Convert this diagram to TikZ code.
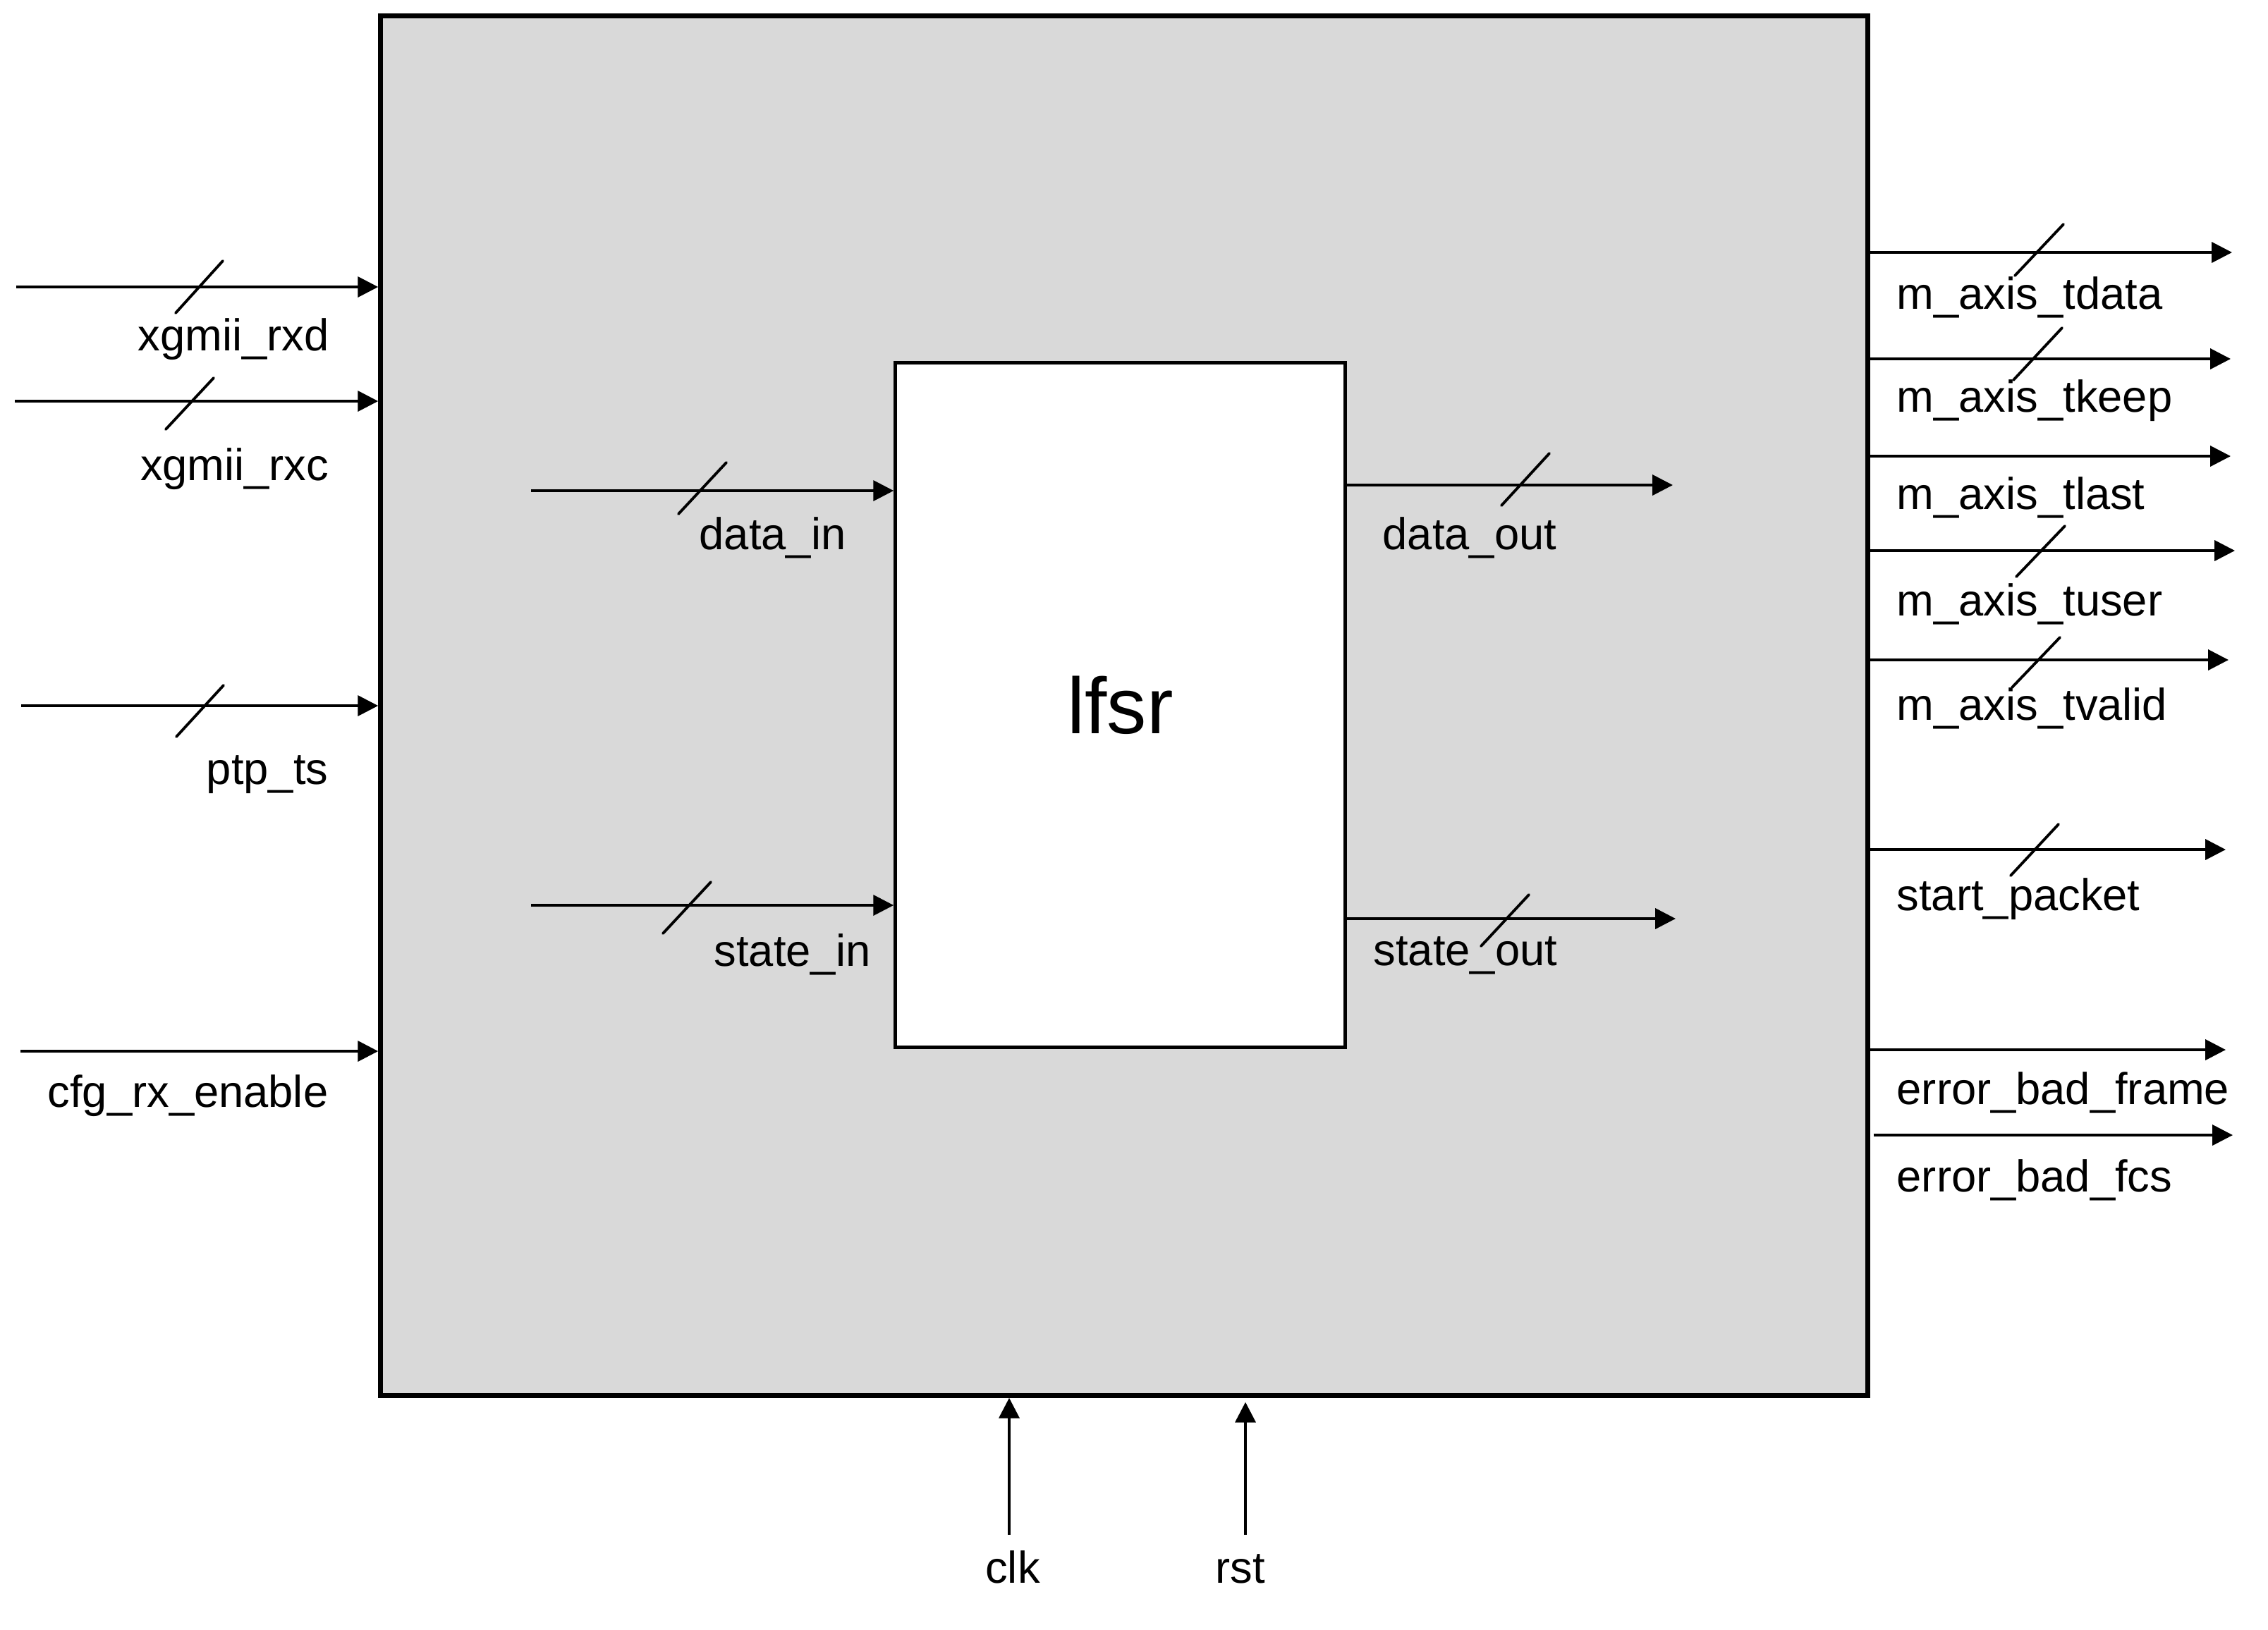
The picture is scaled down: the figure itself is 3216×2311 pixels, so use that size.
\documentclass[tikz,border=0pt]{standalone}
\usepackage{fontspec}
\setmainfont{Liberation Sans}
\usepackage{xcolor}
\usepackage{tikz}
\usetikzlibrary{arrows.meta, positioning}
\definecolor{blockgray}{RGB}{217,217,217}
\tikzset{
    port/.style={
      -{Triangle[length=8.2pt, width=8.2pt]}, %filled arrow head
      line width=1.1pt,
    },
    bus/.style={
      line width=1.1pt, %bus width slash
      line cap=round,
    },
    sig/.style={
      inner sep=0pt,
      font=\fontsize{18}{22}\selectfont, %port names
    },
    block/.style={
      draw,
      line width=1.8pt,
      %fill=blockgray,
    }
  }

\begin{document}
\begin{tikzpicture}[x=0.01cm, y=-0.01cm]
  \useasboundingbox (0,0) rectangle (3216,2311);

  \node[block, fill=blockgray, minimum width=21.08cm, minimum height=19.56cm] (top) at (1594,1001) {};
  \node[block, fill=white, line width=1.5pt, minimum width=6.37cm, minimum height=9.7cm,
        font=\fontsize{32}{38}\selectfont] (lfsr) at (1588.5,1000) {lfsr};

  % inputs
  \coordinate (rxd) at (23,407);
  \coordinate (rxc) at (21,569);
  \coordinate (ts) at (30,1001);
  \coordinate (en) at (29,1491);
  \draw[port] (rxd) -- (rxd -| top.west);
  \draw[port] (rxc) -- (rxc -| top.west);
  \draw[port] (ts) -- (ts -| top.west);
  \draw[port] (en) -- (en -| top.west);
  \draw[bus] (249,444) -- (316,370);
  \draw[bus] (235,609) -- (303,536);
  \draw[bus] (250,1045) -- (317,972);
  \node[sig, anchor=base east] (rxdl) at (467,497) {xgmii\_rxd};
  \node[sig, anchor=base east] (rxcl) at (467,681) {xgmii\_rxc};
  \node[sig, anchor=base east] (tsl) at (466,1112) {ptp\_ts};
  \node[sig, anchor=base east] (enl) at (466,1570) {cfg\_rx\_enable};

  % outputs
  \coordinate (tdata) at (3165,358);
  \coordinate (tkeep) at (3163,509);
  \coordinate (tlast) at (3163,647);
  \coordinate (tuser) at (3169,781);
  \coordinate (tvalid) at (3160,936);
  \coordinate (sop) at (3156,1205);
  \coordinate (frame) at (3156,1489);
  \coordinate (fcs) at (3166,1610);
  \draw[port] (top.east |- tdata) -- (tdata);
  \draw[port] (top.east |- tkeep) -- (tkeep);
  \draw[port] (top.east |- tlast) -- (tlast);
  \draw[port] (top.east |- tuser) -- (tuser);
  \draw[port] (top.east |- tvalid) -- (tvalid);
  \draw[port] (top.east |- sop) -- (sop);
  \draw[port] (top.east |- frame) -- (frame);
  \draw[port, shorten <=1.4pt] (top.east |- fcs) -- (fcs);
  \draw[bus] (2857,391) -- (2926,318);
  \draw[bus] (2855,539) -- (2924,465);
  \draw[bus] (2859,818) -- (2928,746);
  \draw[bus] (2853,975) -- (2921,904);
  \draw[bus] (2851,1242) -- (2919,1169);
  \node[sig, anchor=base west] (tdatal) at (2689,438) {m\_axis\_tdata};
  \node[sig, anchor=base west] (tkeepl) at (2689,584) {m\_axis\_tkeep};
  \node[sig, anchor=base west] (tlastl) at (2689,722) {m\_axis\_tlast};
  \node[sig, anchor=base west] (tuserl) at (2689,873) {m\_axis\_tuser};
  \node[sig, anchor=base west] (tvalidl) at (2689,1021) {m\_axis\_tvalid};
  \node[sig, anchor=base west] (sopl) at (2689,1291) {start\_packet};
  \node[sig, anchor=base west] (framel) at (2689,1566) {error\_bad\_frame};
  \node[sig, anchor=base west] (fcsl) at (2689,1690) {error\_bad\_fcs};

  % lfsr ports
  \coordinate (din) at (753,696);
  \coordinate (sin) at (753,1284);
  \coordinate (dout) at (2372,688);
  \coordinate (sout) at (2376,1303);
  \draw[port] (din) -- (din -| lfsr.west);
  \draw[port] (sin) -- (sin -| lfsr.west);
  \draw[port] (lfsr.east |- dout) -- (dout);
  \draw[port] (lfsr.east |- sout) -- (sout);
  \draw[bus] (962,729) -- (1030,656);
  \draw[bus] (940,1324) -- (1008,1251);
  \draw[bus] (2129,717) -- (2197,643);
  \draw[bus] (2100,1342) -- (2168,1269);
  \node[sig, anchor=base west] (dinl) at (991,779) {data\_in};
  \node[sig, anchor=base west] (sinl) at (1012,1370) {state\_in};
  \node[sig, anchor=base west] (doutl) at (1960,779) {data\_out};
  \node[sig, anchor=base west] (soutl) at (1947,1369) {state\_out};

  % clock and reset
  \coordinate (clk) at (1431,2177);
  \coordinate (rst) at (1766,2177);
  \draw[port] (clk) -- (clk |- top.south);
  \draw[port, shorten >=1.7pt] (rst) -- (rst |- top.south);
  \node[sig, anchor=base] (clkl) at (1436,2245) {clk};
  \node[sig, anchor=base] (rstl) at (1759,2245) {rst};
\end{tikzpicture}
\end{document}
